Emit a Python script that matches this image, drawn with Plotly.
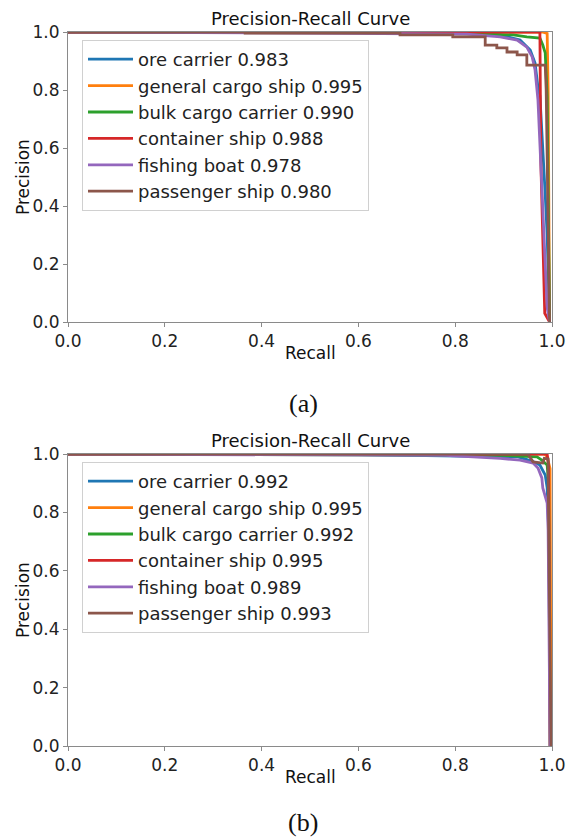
import plotly.graph_objects as go

W, H = 572, 840

class_names = ["ore carrier", "general cargo ship", "bulk cargo carrier",
               "container ship", "fishing boat", "passenger ship"]
colors = ["#1f77b4", "#ff7f0e", "#2ca02c", "#d62728", "#9467bd", "#8c564b"]
ap_a = [0.983, 0.995, 0.990, 0.988, 0.978, 0.980]
ap_b = [0.992, 0.995, 0.992, 0.995, 0.989, 0.993]
ticks = [0.0, 0.2, 0.4, 0.6, 0.8, 1.0]
tick_text = ["0.0", "0.2", "0.4", "0.6", "0.8", "1.0"]

# ---- panel (a) ----
rec_a_ore = [0, 0.80, 0.893, 0.934, 0.955, 0.965, 0.971, 0.975, 0.986, 0.990, 0.995]
pre_a_ore = [1, 0.997, 0.990, 0.972, 0.938, 0.893, 0.81, 0.78, 0.44, 0.30, 0.0]
rec_a_gen = [0, 0.980, 0.990, 0.992, 0.995]
pre_a_gen = [1, 1.000, 0.995, 0.80, 0.0]
rec_a_bulk = [0, 0.60, 0.866, 0.920, 0.948, 0.975, 0.981, 0.986, 0.990, 0.995]
pre_a_bulk = [1, 0.998, 0.993, 0.990, 0.983, 0.979, 0.955, 0.928, 0.776, 0.0]
rec_a_cont = [0, 0.975, 0.977, 0.985, 0.995]
pre_a_cont = [1, 1.000, 0.55, 0.03, 0.0]
rec_a_fish = [0, 0.36, 0.824, 0.893, 0.928, 0.948, 0.959, 0.965, 0.971, 0.990, 0.995]
pre_a_fish = [1, 0.997, 0.993, 0.983, 0.972, 0.948, 0.914, 0.869, 0.766, 0.05, 0.0]
rec_a_pass = [0, 0.366, 0.366, 0.686, 0.686, 0.795, 0.795, 0.862, 0.862, 0.886, 0.886,
              0.907, 0.907, 0.928, 0.928, 0.948, 0.948, 0.986, 0.988, 0.995]
pre_a_pass = [1, 1.000, 0.996, 0.996, 0.990, 0.990, 0.983, 0.983, 0.955, 0.955, 0.945,
              0.945, 0.931, 0.931, 0.921, 0.921, 0.886, 0.886, 0.80, 0.0]

# ---- panel (b) ----
rec_b_ore = [0, 0.60, 0.93, 0.96, 0.975, 0.986, 0.990, 0.994, 0.997]
pre_b_ore = [1, 0.998, 0.990, 0.975, 0.962, 0.928, 0.884, 0.70, 0.0]
rec_b_gen = [0, 0.985, 0.990, 0.996, 0.998]
pre_b_gen = [1, 1.000, 0.990, 0.950, 0.0]
rec_b_bulk = [0, 0.31, 0.90, 0.969, 0.979, 0.990, 0.993, 0.996]
pre_b_bulk = [1, 0.998, 0.995, 0.990, 0.979, 0.962, 0.90, 0.0]
rec_b_cont = [0, 0.990, 0.993, 0.996]
pre_b_cont = [1, 1.000, 0.960, 0.0]
rec_b_fish = [0, 0.55, 0.78, 0.893, 0.934, 0.961, 0.971, 0.979, 0.981, 0.990, 0.992, 0.996]
pre_b_fish = [1, 0.998, 0.995, 0.985, 0.979, 0.969, 0.952, 0.918, 0.884, 0.832, 0.74, 0.0]
rec_b_pass = [0, 0.950, 0.961, 0.981, 0.984, 0.992, 0.992, 0.998]
pre_b_pass = [1, 1.000, 0.973, 0.969, 0.985, 0.983, 0.940, 0.0]

recs_a = [rec_a_ore, rec_a_gen, rec_a_bulk, rec_a_cont, rec_a_fish, rec_a_pass]
pres_a = [pre_a_ore, pre_a_gen, pre_a_bulk, pre_a_cont, pre_a_fish, pre_a_pass]
recs_b = [rec_b_ore, rec_b_gen, rec_b_bulk, rec_b_cont, rec_b_fish, rec_b_pass]
pres_b = [pre_b_ore, pre_b_gen, pre_b_bulk, pre_b_cont, pre_b_fish, pre_b_pass]

fig = go.Figure()
for i in range(6):
    fig.add_trace(go.Scatter(x=recs_a[i], y=pres_a[i], mode="lines",
                             line=dict(color=colors[i], width=2.8),
                             name=f"{class_names[i]} {ap_a[i]:.3f}",
                             xaxis="x", yaxis="y", legend="legend"))
for i in range(6):
    fig.add_trace(go.Scatter(x=recs_b[i], y=pres_b[i], mode="lines",
                             line=dict(color=colors[i], width=2.8),
                             name=f"{class_names[i]} {ap_b[i]:.3f}",
                             xaxis="x2", yaxis="y2", legend="legend2"))

FONT = "DejaVu Sans"
TXT = "#222222"
SPINE = "#8a8a8a"

def px_x(p):
    return p / W

def px_y(p):
    return 1 - p / H

xdom = [px_x(68), px_x(552)]
ydom_a = [px_y(322), px_y(32)]
ydom_b = [px_y(746), px_y(454)]

axis_common = dict(range=[0, 1], tickmode="array", tickvals=ticks, ticktext=tick_text,
                   showgrid=False, zeroline=False, showline=True, linecolor=SPINE,
                   linewidth=1, mirror=True, ticks="outside", ticklen=4,
                   tickcolor=SPINE, automargin=False,
                   tickfont=dict(family=FONT, size=17, color=TXT))

legend_common = dict(xanchor="left", yanchor="top", bgcolor="rgba(255,255,255,0.85)",
                     bordercolor="#d0d0d0", borderwidth=1,
                     font=dict(family=FONT, size=18, color=TXT), itemwidth=45,
                     tracegroupgap=0)

fig.update_layout(
    width=W, height=H, margin=dict(l=0, r=0, t=0, b=0, autoexpand=False),
    paper_bgcolor="white", plot_bgcolor="white", showlegend=True,
    xaxis=dict(domain=xdom, anchor="y", **axis_common),
    yaxis=dict(domain=ydom_a, anchor="x", **axis_common),
    xaxis2=dict(domain=xdom, anchor="y2", **axis_common),
    yaxis2=dict(domain=ydom_b, anchor="x2", **axis_common),
    legend=dict(x=px_x(82), y=px_y(40), **legend_common),
    legend2=dict(x=px_x(82), y=px_y(462), **legend_common),
)

annots = [
    ("Precision-Recall Curve", 310, 18, 18, FONT, 0),
    ("Recall", 310, 353, 17, FONT, 0),
    ("Precision", 23, 177, 17, FONT, -90),
    ("(a)", 303, 403, 26, "Liberation Serif", 0),
    ("Precision-Recall Curve", 310, 440, 18, FONT, 0),
    ("Recall", 310, 777, 17, FONT, 0),
    ("Precision", 23, 600, 17, FONT, -90),
    ("(b)", 303, 822, 26, "Liberation Serif", 0),
]
for text, x, y, size, fam, ang in annots:
    fig.add_annotation(text=text, x=px_x(x), y=px_y(y), xref="paper", yref="paper",
                       xanchor="center", yanchor="middle", showarrow=False,
                       textangle=ang, font=dict(family=fam, size=size, color="#111111"))

fig.write_html("out.html", config={"displayModeBar": False},
               post_script="document.body.style.margin='0';document.body.style.overflow='hidden';")
